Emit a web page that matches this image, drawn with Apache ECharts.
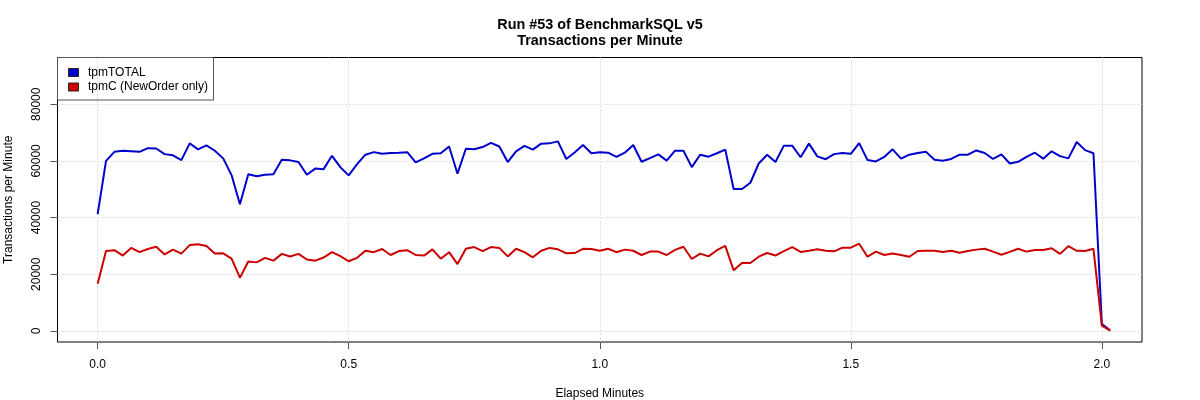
<!DOCTYPE html>
<html>
<head>
<meta charset="utf-8">
<title>Run #53 of BenchmarkSQL v5</title>
<script src="https://cdn.jsdelivr.net/npm/echarts@6/dist/echarts.min.js"></script>
<style>
  html, body { margin: 0; padding: 0; background: #fff; }
  #tpmChart { width: 1200px; height: 400px; }
</style>
</head>
<body>
<div id="tpmChart"></div>
<script>
// one sample per second, x axis is elapsed minutes
var tpmTotal = [
    41200, 60000, 63200, 63600, 63400, 63200, 64500, 64400, 62400, 62000,
    60300, 66200, 64100, 65500, 63600, 60900, 55000, 44700, 55300, 54600,
    55100, 55300, 60400, 60200, 59600, 55100, 57300, 57100, 61800, 57800,
    54900, 58900, 62200, 63100, 62500, 62800, 62900, 63100, 59500, 60900,
    62500, 62700, 65100, 55500, 64300, 64100, 64900, 66400, 65100, 59600,
    63400, 65300, 64000, 66100, 66200, 66900, 60700, 63000, 65600, 62700,
    63100, 62900, 61400, 62900, 65600, 59700, 61000, 62300, 60100, 63600,
    63600, 57800, 62200, 61500, 62700, 64000, 50100, 50100, 52300, 59100,
    62200, 59600, 65400, 65400, 61300, 66100, 61600, 60600, 62400, 62800,
    62500, 66300, 60300, 59800, 61400, 64100, 60800, 62200, 62800, 63200,
    60400, 60100, 60700, 62200, 62200, 63700, 62800, 60700, 62300, 59100,
    59700, 61400, 62900, 60800, 63400, 61700, 60900, 66700, 63800, 62700,
    2500, 150
];
var tpmC = [
    16700, 28200, 28500, 26600, 29300, 27800, 28900, 29700, 27000, 28700,
    27300, 30300, 30600, 30000, 27300, 27400, 25500, 18800, 24500, 24200,
    25800, 24800, 27200, 26300, 27200, 25200, 24800, 25900, 27800, 26400,
    24600, 25800, 28300, 27800, 28900, 26800, 28200, 28500, 26800, 26600,
    28800, 25500, 27800, 23600, 29000, 29600, 28200, 29600, 29300, 26300,
    29000, 27800, 26000, 28300, 29300, 28800, 27400, 27500, 29000, 28900,
    28300, 29000, 27800, 28700, 28300, 26800, 28000, 28000, 26800, 28600,
    29700, 25400, 27300, 26300, 28500, 30000, 21400, 24000, 24000, 26200,
    27500, 26600, 28200, 29600, 27900, 28300, 28800, 28300, 28100, 29400,
    29400, 30800, 26200, 28000, 26800, 27300, 26800, 26200, 28200, 28300,
    28300, 27900, 28300, 27600, 28200, 28700, 29000, 28000, 26900, 27900,
    29000, 28000, 28600, 28600, 29200, 27200, 29900, 28300, 28200, 29000,
    1900, 100
];
var xTicks = [0, 0.5, 1.0, 1.5, 2.0];
var yTicks = [0, 20000, 40000, 60000, 80000];

function toPoints(values) {
    return values.map(function (v, i) { return [i / 60, v]; });
}

var myChart = echarts.init(document.getElementById('tpmChart'), null, {renderer: 'canvas'});

var font = 'Liberation Sans';
var gridLine = {show: true, lineStyle: {color: '#dcdcdc', type: [2, 2], width: 1}};

var option = {
    animation: false,
    color: ['#0000cd', '#cd0000'],
    textStyle: {fontFamily: font},
    title: {
        text: 'Run #53 of BenchmarkSQL v5\nTransactions per Minute',
        left: 'center',
        top: 12.5,
        textStyle: {fontFamily: font, fontSize: 14.4, fontWeight: 'bold', lineHeight: 16, color: '#000'}
    },
    legend: {
        orient: 'vertical',
        left: 57.5,
        top: 57.5,
        padding: [8, 5.5, 6, 10.5],
        itemGap: 0.5,
        itemWidth: 10,
        itemHeight: 8,
        icon: 'rect',
        borderColor: '#555',
        borderWidth: 1,
        borderRadius: 0,
        itemStyle: {borderColor: '#222', borderWidth: 1},
        textStyle: {fontFamily: font, fontSize: 12, color: '#000', lineHeight: 14, padding: [0, 0, 0, 4.5]},
        data: ['tpmTOTAL', 'tpmC (NewOrder only)']
    },
    grid: {
        left: 57.5,
        right: 58,
        top: 57.5,
        bottom: 58,
        outerBoundsMode: 'none',
        show: true,
        borderColor: '#000',
        borderWidth: 1
    },
    xAxis: {
        type: 'value',
        min: -0.08,
        max: 2.08,
        name: 'Elapsed Minutes',
        nameLocation: 'middle',
        nameGap: 46,
        nameTextStyle: {fontFamily: font, fontSize: 12, color: '#000'},
        axisLine: {show: false, onZero: false},
        axisTick: {show: true, length: 7, customValues: xTicks, lineStyle: {color: '#555'}},
        axisLabel: {
            customValues: xTicks,
            margin: 17,
            fontFamily: font,
            fontSize: 12,
            color: '#000',
            formatter: function (v) { return v.toFixed(1); }
        },
        splitLine: gridLine
    },
    yAxis: {
        type: 'value',
        min: -3900,
        max: 96500,
        name: 'Transactions per Minute',
        nameLocation: 'middle',
        nameGap: 43,
        nameTextStyle: {fontFamily: font, fontSize: 12, color: '#000'},
        axisLine: {show: false, onZero: false},
        axisTick: {show: true, length: 7, customValues: yTicks, lineStyle: {color: '#555'}},
        axisLabel: {
            customValues: yTicks,
            rotate: 90,
            margin: 15,
            fontFamily: font,
            fontSize: 12,
            color: '#000',
            formatter: function (v) { return String(v); }
        },
        splitLine: gridLine
    },
    series: [
        {
            name: 'tpmTOTAL',
            type: 'line',
            showSymbol: false,
            lineStyle: {width: 2},
            data: toPoints(tpmTotal)
        },
        {
            name: 'tpmC (NewOrder only)',
            type: 'line',
            showSymbol: false,
            lineStyle: {width: 2},
            data: toPoints(tpmC)
        }
    ]
};

myChart.setOption(option);

window.onresize = function () {
    myChart.resize();
};
</script>
</body>
</html>
